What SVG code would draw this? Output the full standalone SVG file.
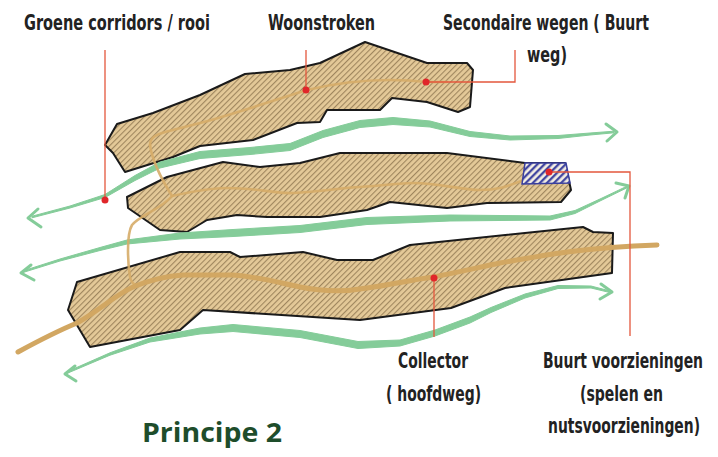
<svg xmlns="http://www.w3.org/2000/svg" width="718" height="457" viewBox="0 0 718 457">
<defs>
<pattern id="hatch" width="4" height="4" patternUnits="userSpaceOnUse" patternTransform="rotate(45)">
<rect width="4" height="4" fill="#e4c998"/>
<line x1="0.6" y1="0" x2="0.6" y2="4" stroke="#8e7650" stroke-width="0.9"/>
</pattern>
<pattern id="bluehatch" width="5" height="5" patternUnits="userSpaceOnUse" patternTransform="rotate(45)">
<rect width="5" height="5" fill="#f4efe4"/>
<line x1="1.2" y1="0" x2="1.2" y2="5" stroke="#3a3f9e" stroke-width="2.2"/>
</pattern>
<style>
.strip{fill:url(#hatch);stroke:#1a1a1a;stroke-width:2;stroke-linejoin:round}
.green{fill:#84cc99;stroke:#84cc99;stroke-width:1;stroke-linejoin:round}
.arrow{fill:none;stroke:#84cc99;stroke-width:3;stroke-linecap:round;stroke-linejoin:round}
.road{fill:none;stroke:#d6ac68;stroke-width:2.6;stroke-linecap:round;stroke-linejoin:round;opacity:0.9}
.main{fill:none;stroke:#d2a762;stroke-width:5;stroke-linecap:round;stroke-linejoin:round}
.leader{fill:none;stroke:#e4573d;stroke-width:1.3}
.dot{fill:#e0262a}
.lbl{font-family:"Liberation Sans Narrow","DejaVu Sans Condensed","Roboto Condensed",sans-serif;font-size:21px;font-weight:bold;fill:#222222}
.title{font-family:"Open Sans","DejaVu Sans",sans-serif;font-weight:bold;font-size:26px;fill:#1e4d2b}
</style>
</defs>

<g id="strip-top">
<polygon class="strip" points="105,145 117,124 153,113 200,95 245,74 290,70 320,63 365,42 427,63 467,63 473,70 470,107 458,112 427,102 392,98 380,110 327,110 320,122 297,123 253,140 200,146 173,157 125,172 113,153"/>
</g>
<g id="strip-middle">
<polygon class="strip" points="127,197 167,177 223,162 260,167 300,163 340,153 447,153 525,163 565,163 571,190 561,202 487,203 447,208 390,202 367,210 320,217 267,217 237,215 207,220 187,232 160,230 128,208"/>
</g>
<g id="strip-bottom">
<polygon class="strip" points="77,282 180,252 230,252 240,257 303,252 337,260 373,260 410,245 583,227 593,232 613,233 612,273 505,288 451,308 360,320 203,310 180,330 90,347 68,310"/>
</g>

<g id="green-corridors">
<polygon class="green" points="32,216.2 70,206 105,194.5 135,175.5 160,162 200,151.5 250,147.5 290,143.5 323,130.5 360,120.5 393,117.5 430,121 470,131.5 510,136 558,135.5 590,133 614,131.2 614,132.8 590,135 558,138.5 510,140 470,136.5 430,127 393,124.5 360,127.5 323,137.5 290,150.5 250,154.5 200,158.5 160,168 135,180.5 105,197.5 70,208 32,217.8"/>
<polyline class="arrow" points="38,209 28,218 41,227"/>
<polyline class="arrow" points="606,124 617,132 607,141"/>

<polygon class="green" points="22,271.2 60,259 100,247.5 127,240 180,233 233,229.5 300,225.5 367,217.5 450,215 550,216 575,210.5 600,199 627,186.2 627,187.8 600,201 575,213.5 550,220 450,221 367,224.5 300,232.5 233,236.5 180,239 127,244 100,250.5 60,261 22,272.8"/>
<polyline class="arrow" points="31,265 21,273 34,280"/>
<polyline class="arrow" points="616,183 629,186 625,198"/>

<polygon class="green" points="66,372.2 110,352.8 150,338 200,328 233,324.5 300,330.5 358,341.5 400,340 435,330 470,317 491,307.5 525,294 558,285.5 591,286 611,291.2 611,292.8 591,288 558,288.5 525,298 491,312.5 470,323 435,336 400,346 358,348.5 300,337.5 233,331.5 200,334 150,342 110,355.2 66,373.8"/>
<polyline class="arrow" points="75,366 65,374 76,381"/>
<polyline class="arrow" points="601,284 612,292 600,299"/>
</g>

<g id="roads">
<path class="road" d="M150,145 C150,138 155,135 165,132 L200,123 C230,115 260,105 307,90 C340,82 380,77 427,82 L447,82"/>
<path class="road" d="M150,145 C152,160 162,180 172,196 C160,210 140,215 132,225 C126,235 128,265 130,277 C131,282 134,285 138,286"/>
<path class="road" d="M172,196 C190,192 210,188 227,188 C260,188 275,194 293,193 C320,192 340,188 360,187 C380,186 400,183 413,183 C440,183 460,190 480,190 C505,190 515,182 525,180"/>
<path class="main" d="M18,352 C40,340 60,330 77,323 C100,310 115,295 133,287 C150,280 165,276 183,275 L233,275 C260,277 280,283 300,287 C320,291 345,292 367,288 C390,285 410,280 433,277 C460,272 480,267 500,263 C530,258 550,254 567,252 C600,248 630,246 657,245"/>
</g>

<g id="buurt-voorziening">
<polygon points="525,163 566,163 570,183 522,184" fill="url(#bluehatch)" stroke="#3a3f9e" stroke-width="1.5"/>
</g>

<g id="leaders">
<polyline class="leader" points="105,50 105,200"/>
<polyline class="leader" points="306,50 306,90"/>
<polyline class="leader" points="426,82 515,82 515,50"/>
<polyline class="leader" points="549,172 630,172 630,336"/>
<polyline class="leader" points="434,278 434,337"/>
<circle class="dot" cx="105" cy="200" r="3.5"/>
<circle class="dot" cx="306" cy="90" r="3.5"/>
<circle class="dot" cx="426" cy="82" r="3.5"/>
<circle class="dot" cx="549" cy="172" r="3.5"/>
<circle class="dot" cx="434" cy="278" r="3.5"/>
</g>

<g id="labels">
<text class="lbl" x="24" y="30" textLength="186" lengthAdjust="spacingAndGlyphs">Groene corridors / rooi</text>
<text class="lbl" x="268" y="30" textLength="107" lengthAdjust="spacingAndGlyphs">Woonstroken</text>
<text class="lbl" x="443" y="30" textLength="206" lengthAdjust="spacingAndGlyphs">Secondaire wegen ( Buurt</text>
<text class="lbl" x="527" y="62" textLength="40" lengthAdjust="spacingAndGlyphs">weg)</text>
<text class="lbl" x="398" y="368" textLength="70" lengthAdjust="spacingAndGlyphs">Collector</text>
<text class="lbl" x="386" y="401" textLength="95" lengthAdjust="spacingAndGlyphs">( hoofdweg)</text>
<text class="lbl" x="543" y="368" textLength="160" lengthAdjust="spacingAndGlyphs">Buurt voorzieningen</text>
<text class="lbl" x="580" y="401" textLength="83" lengthAdjust="spacingAndGlyphs">(spelen en</text>
<text class="lbl" x="548" y="433" textLength="152" lengthAdjust="spacingAndGlyphs">nutsvoorzieningen)</text>
<text class="title" x="142" y="442" textLength="140" lengthAdjust="spacingAndGlyphs">Principe 2</text>
</g>
</svg>
